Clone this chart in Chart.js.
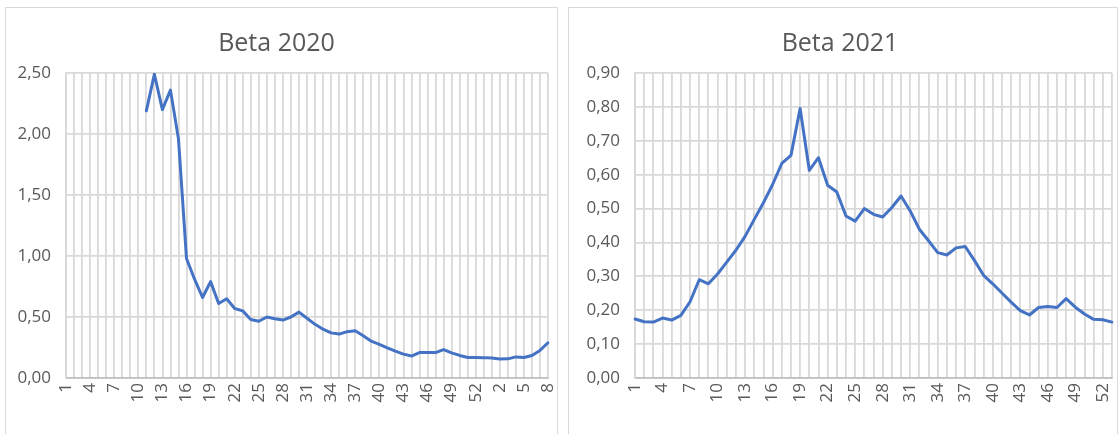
<!DOCTYPE html>
<html>
<head>
<meta charset="utf-8">
<script src="https://cdn.jsdelivr.net/npm/chart.js@4/dist/chart.umd.min.js"></script>
<style>
  body { margin: 0; background: #fff; width: 1120px; height: 434px; overflow: hidden; position: relative; }
  .frame { position: absolute; top: 7px; height: 440px; border: 1px solid #d9d9d9; box-sizing: border-box; }
  .holder { position: absolute; top: 0; height: 434px; }
</style>
</head>
<body>
<div class="frame" style="left:5px; width:553px;"></div>
<div class="frame" style="left:568px; width:550px;"></div>
<div class="holder" style="left:5px; width:553px;"><canvas id="chart2020" width="553" height="434"></canvas></div>
<div class="holder" style="left:568px; width:550px;"><canvas id="chart2021" width="550" height="434"></canvas></div>
<script>
// week labels: 2020 runs on into the first weeks of 2021
var weeks2020 = ['1','2','3','4','5','6','7','8','9','10','11','12','13','14','15','16','17','18','19','20',
  '21','22','23','24','25','26','27','28','29','30','31','32','33','34','35','36','37','38','39','40',
  '41','42','43','44','45','46','47','48','49','50','51','52','53','1','2','3','4','5','6','7','8'];
var weeks2021 = ['1','2','3','4','5','6','7','8','9','10','11','12','13','14','15','16','17','18','19','20',
  '21','22','23','24','25','26','27','28','29','30','31','32','33','34','35','36','37','38','39','40',
  '41','42','43','44','45','46','47','48','49','50','51','52','53'];

var beta2020 = [null, null, null, null, null, null, null, null, null, null,
  2.19, 2.49, 2.20, 2.36, 1.96, 0.98, 0.81, 0.66, 0.79, 0.61,
  0.65, 0.57, 0.55, 0.48, 0.465, 0.50, 0.485, 0.475, 0.50, 0.54,
  0.49, 0.44, 0.40, 0.37, 0.36, 0.38, 0.388, 0.347, 0.302, 0.276,
  0.247, 0.22, 0.196, 0.18, 0.208, 0.209, 0.208, 0.233, 0.206, 0.185,
  0.168, 0.168, 0.167, 0.163, 0.156, 0.157, 0.173, 0.168, 0.185, 0.226, 0.289];

var beta2021 = [0.174, 0.166, 0.165, 0.177, 0.171, 0.185, 0.225, 0.290, 0.278, 0.307,
  0.342, 0.377, 0.418, 0.468, 0.517, 0.571, 0.633, 0.657, 0.795, 0.613,
  0.650, 0.569, 0.549, 0.478, 0.463, 0.500, 0.483, 0.475, 0.503, 0.537,
  0.493, 0.439, 0.405, 0.370, 0.363, 0.384, 0.388, 0.347, 0.303, 0.278,
  0.251, 0.224, 0.199, 0.186, 0.208, 0.211, 0.208, 0.234, 0.209, 0.189,
  0.173, 0.172, 0.165];

var yTicks2020 = { max: 2.5, step: 0.5 };
var yTicks2021 = { max: 0.9, step: 0.1 };

var textColor = '#595959';
var gridColor = '#d9d9d9';

function drawBetaChart(canvasId, title, labels, values, yTicks, axisWidth, rightPad) {
  var canvas = document.getElementById(canvasId);
  return new Chart(canvas, {
    type: 'line',
    data: {
      labels: labels,
      datasets: [
        {
          data: values,
          borderColor: '#4472c4',
          borderWidth: 3,
          borderJoinStyle: 'round',
          borderCapStyle: 'round',
          pointRadius: 0,
          tension: 0,
          fill: false
        }
      ]
    },
    options: {
      responsive: false,
      animation: false,
      devicePixelRatio: 1,
      layout: {
        padding: { left: 0, right: rightPad, top: 0, bottom: 0 }
      },
      plugins: {
        legend: { display: false },
        tooltip: { enabled: false },
        title: {
          display: true,
          text: title,
          color: textColor,
          font: { family: 'Open Sans', size: 25, weight: 'normal' },
          padding: { top: 29, bottom: 14 }
        }
      },
      scales: {
        x: {
          type: 'category',
          offset: false,
          grid: { color: gridColor, lineWidth: 1.8, drawTicks: false, offset: false },
          border: { color: '#bfbfbf', width: 1.8 },
          ticks: {
            autoSkip: false,
            minRotation: 90,
            maxRotation: 90,
            padding: 5,
            color: textColor,
            font: { family: 'Open Sans', size: 17 },
            callback: function (val, index) {
              return index % 3 === 0 ? this.getLabelForValue(val) : '';
            }
          },
          afterFit: function (scale) {
            scale.height = 56;
            scale.paddingLeft = 0;
            scale.paddingRight = 0;
          }
        },
        y: {
          min: 0,
          max: yTicks.max,
          grid: { color: gridColor, lineWidth: 1.8, drawTicks: false },
          border: { color: gridColor, width: 1.8 },
          ticks: {
            stepSize: yTicks.step,
            padding: 15,
            color: textColor,
            font: { family: 'Open Sans', size: 17 },
            callback: function (value) {
              return value.toFixed(2).replace('.', ',');
            }
          },
          afterFit: function (scale) {
            scale.width = axisWidth;
            scale.paddingTop = 0;
            scale.paddingBottom = 0;
          }
        }
      }
    }
  });
}

drawBetaChart('chart2020', 'Beta 2020', weeks2020, beta2020, yTicks2020, 61, 10);
drawBetaChart('chart2021', 'Beta 2021', weeks2021, beta2021, yTicks2021, 67, 6);
</script>
</body>
</html>
